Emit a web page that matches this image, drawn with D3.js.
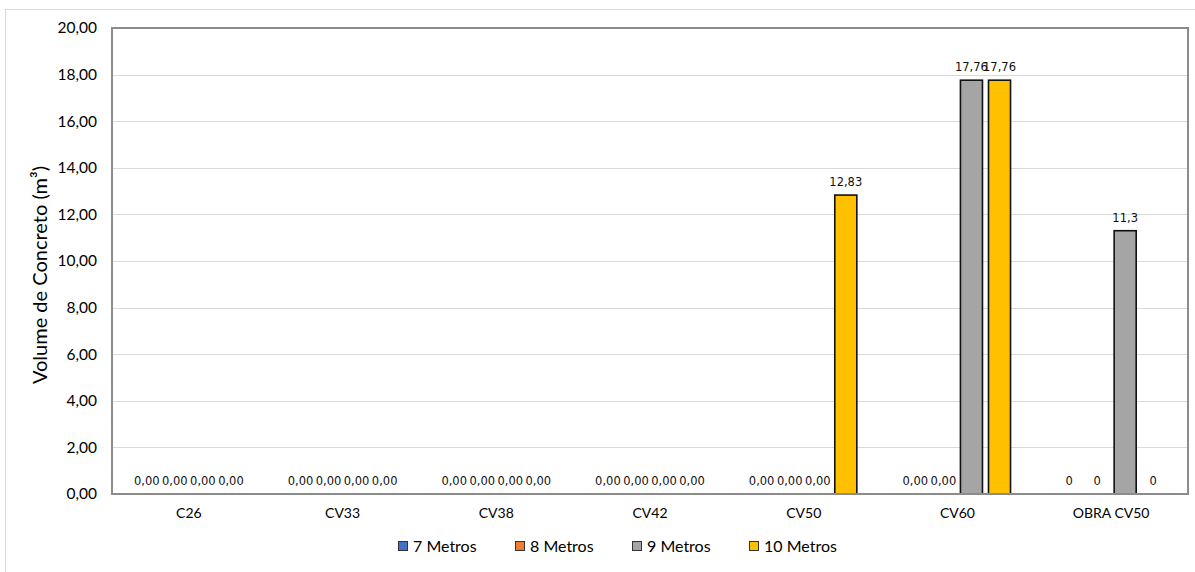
<!DOCTYPE html>
<html>
<head>
<meta charset="utf-8">
<script src="https://cdn.jsdelivr.net/npm/d3@7"></script>
<style>
  html, body { margin: 0; padding: 0; background: #ffffff; }
  svg { display: block; }
</style>
</head>
<body>
<svg id="chart" width="1195" height="572"></svg>
<script>
// ---------- data ----------
const categories = ["C26", "CV33", "CV38", "CV42", "CV50", "CV60", "OBRA CV50"];
const seriesNames = ["7 Metros", "8 Metros", "9 Metros", "10 Metros"];
const values7m  = [0, 0, 0, 0, 0, 0, 0];
const values8m  = [0, 0, 0, 0, 0, 0, 0];
const values9m  = [0, 0, 0, 0, 0, 17.76, 11.3];
const values10m = [0, 0, 0, 0, 12.83, 17.76, 0];
// label number format per category ("fixed" = two decimals, "general" = as typed)
const labelFormats = ["fixed", "fixed", "fixed", "fixed", "fixed", "fixed", "general"];
const yTickValues = [0, 2, 4, 6, 8, 10, 12, 14, 16, 18, 20];
const yAxisTitle = "Volume de Concreto (m³)";

const seriesValues = [values7m, values8m, values9m, values10m];
const colors = ["#4472C4", "#ED7D31", "#A5A5A5", "#FFC000"];

// ---------- layout ----------
const W = 1195, H = 572;
const plot = { left: 112, right: 1188, top: 28, bottom: 494 };

const locale = d3.formatLocale({ decimal: ",", thousands: ".", grouping: [3], currency: ["R$", ""] });
const fmtFixed = locale.format(".2f");
const fmtGeneral = locale.format("~g");

const svg = d3.select("#chart");

// outer chart border
svg.append("rect")
  .attr("x", 5.5).attr("y", 9.5)
  .attr("width", W + 20).attr("height", H + 20)
  .attr("fill", "none").attr("stroke", "#d9d9d9").attr("stroke-width", 1);

const y = d3.scaleLinear().domain([0, 20]).range([plot.bottom, plot.top]);
const x0 = d3.scaleBand().domain(categories).range([plot.left, plot.right])
  .paddingInner(0.27).paddingOuter(0.135);
const x1 = d3.scaleBand().domain(seriesNames).range([0, x0.bandwidth()])
  .paddingInner(6 / 28).paddingOuter(3 / 28);

// gridlines
svg.append("g")
  .selectAll("line")
  .data(yTickValues.filter(v => v > 0 && v < 20))
  .join("line")
  .attr("x1", plot.left).attr("x2", plot.right)
  .attr("y1", d => Math.round(y(d)) + 0.5).attr("y2", d => Math.round(y(d)) + 0.5)
  .attr("stroke", "#d9d9d9").attr("stroke-width", 1);

// y axis labels
const yAxis = d3.axisLeft(y).tickValues(yTickValues).tickFormat(fmtFixed).tickSize(0).tickPadding(15);
const gy = svg.append("g").attr("transform", `translate(${plot.left},0)`).call(yAxis);
gy.select(".domain").remove();
gy.selectAll("text")
  .attr("font-family", "Lato, 'Open Sans', sans-serif")
  .attr("font-size", 15.5).attr("fill", "#000");

// x axis labels
const xAxis = d3.axisBottom(x0).tickSize(0).tickPadding(14);
const gx = svg.append("g").attr("transform", `translate(0,${plot.bottom})`).call(xAxis);
gx.select(".domain").remove();
gx.selectAll("text")
  .attr("font-family", "Lato, 'Open Sans', sans-serif")
  .attr("font-size", 14).attr("fill", "#000");

// bars
const rows = [];
categories.forEach((c, i) => {
  seriesNames.forEach((s, j) => {
    rows.push({ cat: c, ser: s, idx: j, v: seriesValues[j][i], fmt: labelFormats[i] });
  });
});

svg.append("g")
  .selectAll("rect")
  .data(rows.filter(d => d.v > 0))
  .join("rect")
  .attr("x", d => x0(d.cat) + x1(d.ser))
  .attr("y", d => y(d.v))
  .attr("width", x1.bandwidth())
  .attr("height", d => y(0) - y(d.v))
  .attr("fill", d => colors[d.idx])
  .attr("stroke", "#111").attr("stroke-width", 1.6);

// data labels
svg.append("g")
  .selectAll("text")
  .data(rows)
  .join("text")
  .attr("x", d => x0(d.cat) + x1(d.ser) + x1.bandwidth() / 2)
  .attr("y", d => y(d.v) - 9)
  .attr("text-anchor", "middle")
  .attr("font-family", "'DejaVu Sans', Verdana, sans-serif")
  .attr("font-size", 11.5)
  .attr("fill", "#111")
  .text(d => d.fmt === "fixed" ? fmtFixed(d.v) : fmtGeneral(d.v));

// plot border
svg.append("rect")
  .attr("x", plot.left).attr("y", plot.top)
  .attr("width", plot.right - plot.left).attr("height", plot.bottom - plot.top)
  .attr("fill", "none").attr("stroke", "#8c8c8c").attr("stroke-width", 2);

// y axis title
svg.append("text")
  .attr("transform", `translate(47,${(plot.top + plot.bottom) / 2 + 14}) rotate(-90)`)
  .attr("text-anchor", "middle")
  .attr("font-family", "Lato, 'Open Sans', sans-serif")
  .attr("font-size", 20).attr("fill", "#000")
  .text(yAxisTitle);

// legend
const legendStart = 398, legendStep = 117, legendY = 546;
const leg = svg.append("g").selectAll("g").data(seriesNames).join("g")
  .attr("transform", (d, i) => `translate(${legendStart + i * legendStep},${legendY})`);
leg.append("rect")
  .attr("x", 0.5).attr("y", -4.5).attr("width", 9).attr("height", 9)
  .attr("fill", (d, i) => colors[i]).attr("stroke", "#333").attr("stroke-width", 1);
leg.append("text")
  .attr("x", 15).attr("y", 0).attr("dy", "0.35em")
  .attr("font-family", "Lato, 'Open Sans', sans-serif")
  .attr("font-size", 16).attr("fill", "#000")
  .text(d => d);
</script>
</body>
</html>
